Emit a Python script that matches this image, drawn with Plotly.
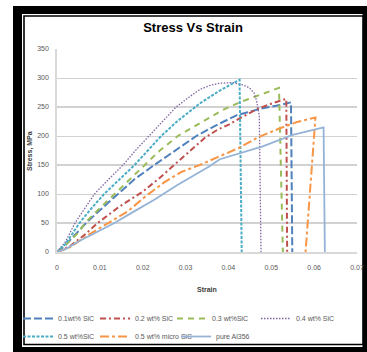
import plotly.graph_objects as go

# ---------------- data ----------------
s01 = [0, 0.002, 0.004, 0.0068, 0.01, 0.0142, 0.018, 0.0227, 0.0275, 0.0325, 0.037, 0.0402, 0.042, 0.0445, 0.048, 0.0511, 0.0546, 0.0549]
y01 = [0, 12, 28, 50, 72, 100, 125, 150, 175, 200, 218, 229, 236, 241, 248, 252, 258, 0]

s02 = [0, 0.003, 0.0065, 0.0095, 0.0145, 0.02, 0.024, 0.0274, 0.031, 0.0345, 0.0375, 0.0402, 0.043, 0.0472, 0.0505, 0.0535, 0.0537]
y02 = [0, 10, 30, 50, 78, 104, 128, 150, 175, 197, 211, 220, 232, 248, 257, 264, 0]

s03 = [0, 0.002, 0.0045, 0.0068, 0.0095, 0.0134, 0.017, 0.0204, 0.024, 0.0282, 0.034, 0.0387, 0.0426, 0.047, 0.05, 0.0518, 0.0527]
y03 = [0, 12, 30, 52, 72, 100, 125, 150, 175, 200, 225, 245, 258, 270, 278, 283, 0]

s04 = [0, 0.002, 0.0042, 0.0065, 0.00875, 0.012, 0.0154, 0.0183, 0.0214, 0.0245, 0.0278, 0.031, 0.0333, 0.0356, 0.0379, 0.041, 0.0434, 0.0449, 0.046, 0.0466, 0.0472, 0.0476]
y04 = [0, 18, 50, 75, 100, 125, 150, 175, 200, 225, 250, 268, 280, 287, 291, 292, 288, 283, 274, 260, 235, 0]

s05 = [0, 0.002, 0.00525, 0.008, 0.011, 0.0145, 0.0181, 0.0212, 0.0243, 0.028, 0.0325, 0.0333, 0.0379, 0.0403, 0.0426, 0.0431]
y05 = [0, 14, 50, 75, 100, 125, 150, 175, 200, 225, 250, 256, 278, 287, 297, 0]

s05m = [0, 0.003, 0.007, 0.012, 0.0165, 0.0205, 0.025, 0.029, 0.0333, 0.0426, 0.047, 0.0519, 0.056, 0.0603, 0.058]
y05m = [0, 8, 28, 50, 70, 95, 120, 138, 150, 180, 198, 213, 224, 232, 0]

spure = [0, 0.002, 0.005, 0.009, 0.0134, 0.018, 0.0227, 0.028, 0.0333, 0.0356, 0.038, 0.0426, 0.048, 0.055, 0.0622, 0.0625]
ypure = [0, 5, 18, 33, 50, 70, 90, 115, 138, 148, 160, 170, 182, 202, 215, 0]

names = ["0.1wt% SiC", "0.2 wt% SiC", "0.3 wt%SiC", "0.4 wt% SiC",
         "0.5 wt%SiC", "0.5 wt% micro SiC", "pure Al356"]
xticks = [0, 0.01, 0.02, 0.03, 0.04, 0.05, 0.06, 0.07]
xticklabels = ["0", "0.01", "0.02", "0.03", "0.04", "0.05", "0.06", "0.07"]
yticks = [0, 50, 100, 150, 200, 250, 300, 350]

series = [(s01, y01), (s02, y02), (s03, y03), (s04, y04), (s05, y05), (s05m, y05m), (spure, ypure)]
colors = ["#4F81BD", "#C0504D", "#9BBB59", "#8064A2", "#4BACC6", "#F79646", "#95B3D7"]
dashes = ["8px,3px", "6px,3px,2px,3px", "6px,5px", "1.5px,1.5px", "3px,1.5px", "9px,3px,3px,3px", "solid"]
widths = [2, 2, 2, 1.3, 2, 2, 1.8]

FONT = "Liberation Sans Narrow, Liberation Sans, Arial, sans-serif"

W, H = 367, 352
ML, MR, MT, MB = 57, 10, 49, 100
PW, PH = W - ML - MR, H - MT - MB

def pxx(px):
    return (px - ML) / PW

def pxy(py):
    return (H - MB - py) / PH

# legend entry placement (text start x, row top y) in pixels
leg_pos = [(65, 304), (142, 304), (219, 304), (303, 304),
           (65, 322), (142, 322), (223, 322)]

fig = go.Figure()
legend_layouts = {}
for i, ((sx, sy), n, c, d, w) in enumerate(zip(series, names, colors, dashes, widths)):
    key = "legend" if i == 0 else f"legend{i + 1}"
    fig.add_trace(go.Scatter(x=sx, y=sy, mode="lines", name=n, legend=key, showlegend=True,
                             line=dict(color=c, dash=d, width=w)))
    tx, ty = leg_pos[i]
    legend_layouts[key] = dict(orientation="h", x=pxx(tx - 47), xanchor="left",
                               y=pxy(ty), yanchor="top", itemwidth=30,
                               font=dict(size=7, color="#595959"),
                               bgcolor="rgba(0,0,0,0)")

shapes = [
    dict(type="rect", xref="paper", yref="paper", x0=pxx(13), x1=pxx(372), y0=pxy(358), y1=pxy(6),
         fillcolor="black", line=dict(width=0), layer="below"),
    dict(type="rect", xref="paper", yref="paper", x0=pxx(22), x1=pxx(362.5), y0=pxy(347), y1=pxy(14),
         fillcolor="white", line=dict(width=0), layer="below"),
    dict(type="rect", xref="paper", yref="paper", x0=pxx(24), x1=pxx(363), y0=pxy(344.5), y1=pxy(16),
         fillcolor="white", line=dict(width=1.6, color="black"), layer="below"),
]
for v in [50, 150, 250]:
    shapes.append(dict(type="line", xref="paper", yref="y", x0=0, x1=1, y0=v, y1=v,
                       line=dict(color="#a3a3a3", width=1), layer="between"))

fig.update_layout(
    width=W, height=H,
    margin=dict(l=ML, r=MR, t=MT, b=MB, autoexpand=False),
    showlegend=True,
    paper_bgcolor="white", plot_bgcolor="rgba(0,0,0,0)",
    font=dict(family=FONT, color="#595959", size=7),
    title=dict(text="Stress Vs Strain", x=193 / W, xref="container", xanchor="center",
               y=1 - 27.5 / H, yref="container", yanchor="middle",
               font=dict(family=FONT, size=13, color="black", weight="bold")),
    xaxis=dict(range=[0, 0.07], tickvals=xticks, ticktext=xticklabels, showgrid=False,
               zeroline=False, showline=True, linecolor="#d9d9d9", linewidth=1.5,
               ticks="", ticklabelstandoff=8, tickfont=dict(size=7, color="#595959")),
    yaxis=dict(range=[0, 350], tickvals=yticks, showgrid=True, gridcolor="#d2d2d2", gridwidth=1,
               zeroline=False, showline=True, linecolor="#d9d9d9", linewidth=1.5,
               ticks="", ticklabelstandoff=5, tickfont=dict(size=7, color="#595959")),
    shapes=shapes,
    annotations=[
        dict(text="<b>Strain</b>", xref="paper", yref="paper", x=pxx(207), y=pxy(289),
             showarrow=False, font=dict(size=7, color="#404040"), xanchor="center", yanchor="middle"),
        dict(text="<b>Stress, MPa</b>", xref="paper", yref="paper", x=pxx(30), y=pxy(151),
             showarrow=False, textangle=-90, font=dict(size=7, color="#404040"),
             xanchor="center", yanchor="middle"),
    ],
    **legend_layouts,
)

fig.write_html(
    "out.html",
    config={"displayModeBar": False},
    post_script="document.body.style.margin='0';document.body.style.padding='0';"
                "document.body.style.overflow='hidden';",
)
